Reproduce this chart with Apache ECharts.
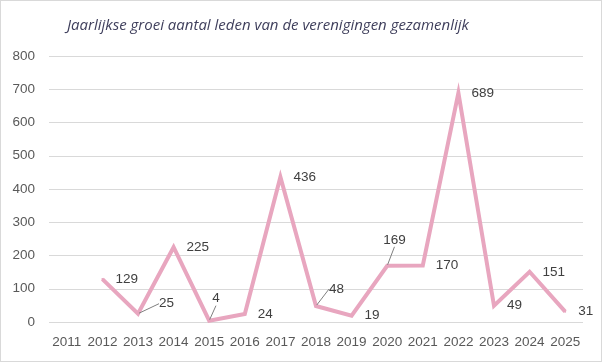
<!DOCTYPE html>
<html>
<head>
<meta charset="utf-8">
<style>
html,body{margin:0;padding:0;background:#fff;}
#chart{width:602px;height:362px;box-sizing:border-box;border:1px solid #d9d9d9;}
</style>
<script src="https://cdn.jsdelivr.net/npm/echarts@6/dist/echarts.min.js"></script>
</head>
<body>
<div id="chart"></div>
<script>
const title = 'Jaarlijkse groei aantal leden van de verenigingen gezamenlijk';
const years = ['2011','2012','2013','2014','2015','2016','2017','2018','2019','2020','2021','2022','2023','2024','2025'];
const growth = [null, 129, 25, 225, 4, 24, 436, 48, 19, 169, 170, 689, 49, 151, 31];
const yTicks = [0, 100, 200, 300, 400, 500, 600, 700, 800];

// label nudges (style only)
const labelShift = {2: [8, -10], 4: [-10, -22], 7: [0, -17], 9: [-17, -26]};

const chart = echarts.init(document.getElementById('chart'), null, {renderer: 'canvas'});
chart.setOption({
  animation: false,
  title: {
    text: title,
    left: 262, top: 12, textAlign: 'center',
    textStyle: {fontFamily: 'Open Sans', fontStyle: 'italic', fontWeight: 'normal', fontSize: 15, color: '#3f3f5c'}
  },
  grid: {left: 48, right: 18, top: 55, bottom: 39, containLabel: false},
  xAxis: {
    type: 'category', data: years, boundaryGap: true,
    axisLine: {show: false}, axisTick: {show: false},
    axisLabel: {color: '#595959', fontSize: 13.5, fontFamily: 'Liberation Sans, Arial', margin: 13, interval: 0}
  },
  yAxis: {
    type: 'value', min: yTicks[0], max: yTicks[yTicks.length - 1], interval: 100,
    axisLine: {show: false}, axisTick: {show: false},
    axisLabel: {color: '#595959', fontSize: 13.5, fontFamily: 'Liberation Sans, Arial', margin: 14},
    splitLine: {lineStyle: {color: '#d9d9d9', width: 1}}
  },
  series: [{
    type: 'line',
    data: growth.map((v, i) => ({value: v, labelLine: {show: !!labelShift[i]}})),
    connectNulls: false,
    symbol: 'circle', symbolSize: 2, showSymbol: true,
    itemStyle: {color: '#e8a6bf'},
    lineStyle: {color: '#e8a6bf', width: 4, join: 'miter'},
    label: {show: true, position: 'right', distance: 12, color: '#404040', fontSize: 13.5, fontFamily: 'Liberation Sans, Arial'},
    labelLine: {lineStyle: {color: '#7f7f7f', width: 1}},
    labelLayout: function (p) {
      const s = labelShift[p.dataIndex];
      return s ? {dx: s[0], dy: s[1]} : {};
    }
  }]
});
</script>
</body>
</html>
